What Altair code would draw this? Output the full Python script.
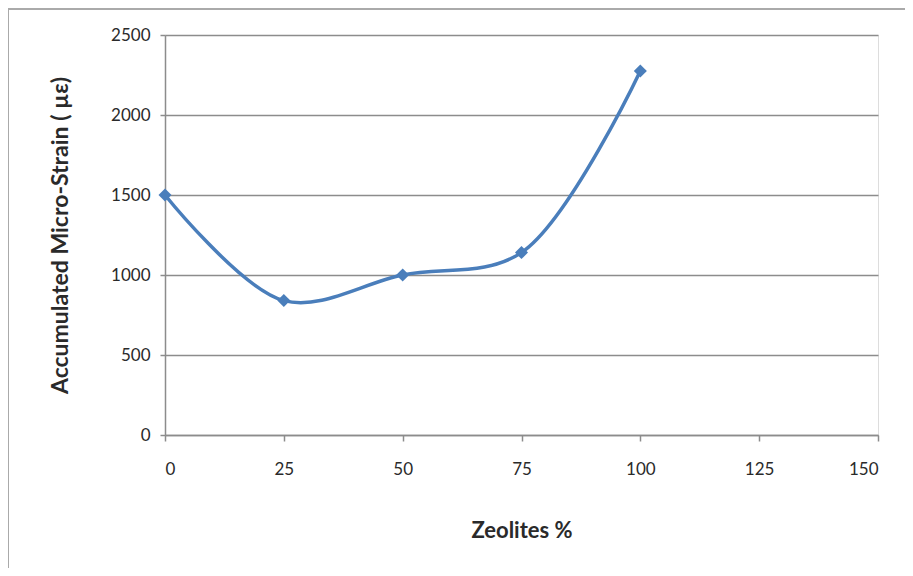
import altair as alt
import pandas as pd

zeolites = [0, 25, 50, 75, 100]
strain = [1500, 840, 1000, 1140, 2275]

df = pd.DataFrame({"Zeolites": zeolites, "Strain": strain})

FONT = "Lato"
BLUE = "#4A7EBB"
GRID = "#8C8C8C"
TXT = "#2A2A2A"

x_enc = alt.X("Zeolites:Q",
              scale=alt.Scale(domain=[0, 150], nice=False),
              axis=alt.Axis(values=[0, 25, 50, 75, 100, 125, 150], title="Zeolites %", format="d",
                            grid=False, domain=True, domainColor=GRID, domainWidth=1.5,
                            ticks=True, tickColor=GRID, tickSize=6, tickWidth=1.5,
                            labelPadding=20, labelFont=FONT, labelFontSize=17, labelColor=TXT,
                            titleFont=FONT, titleFontSize=22, titleFontWeight="bold", titleColor=TXT,
                            titlePadding=43))
y_enc = alt.Y("Strain:Q",
              scale=alt.Scale(domain=[0, 2500], nice=False),
              axis=alt.Axis(values=[0, 500, 1000, 1500, 2000, 2500], format="d",
                            title="Accumulated  Micro-Strain  ( \u00b5\u03b5)",
                            grid=True, gridColor=GRID, gridWidth=1.5,
                            domain=True, domainColor=GRID, domainWidth=1.5,
                            ticks=True, tickColor=GRID, tickSize=5, tickWidth=1.5,
                            labelPadding=10, labelFont=FONT, labelFontSize=17, labelColor=TXT,
                            titleFont=FONT, titleFontSize=23, titleFontWeight="bold", titleColor=TXT,
                            titlePadding=38))

line = alt.Chart(df).mark_line(interpolate="catmull-rom", color=BLUE, strokeWidth=3.5).encode(x=x_enc, y=y_enc)
pts = alt.Chart(df).mark_point(shape="diamond", filled=True, size=170, color=BLUE, opacity=1).encode(x="Zeolites:Q", y="Strain:Q")

border_top = alt.Chart(pd.DataFrame({"a": [0]})).mark_rule(color="#AAAAAA", strokeWidth=2).encode(
    x=alt.value(-157), x2=alt.value(740), y=alt.value(-26))
border_left = alt.Chart(pd.DataFrame({"a": [0]})).mark_rule(color="#AAAAAA", strokeWidth=2).encode(
    x=alt.value(-157), y=alt.value(-27), y2=alt.value(533))

chart = alt.layer(border_top, border_left, line, pts).properties(
    width=713, height=400,
    autosize=alt.AutoSizeParams(type="none"),
    padding={"left": 157, "top": 27, "right": 27, "bottom": 133},
).configure_view(stroke=None).configure(background="white")

chart.save("out.html", embed_options={"renderer": "svg", "actions": False})
